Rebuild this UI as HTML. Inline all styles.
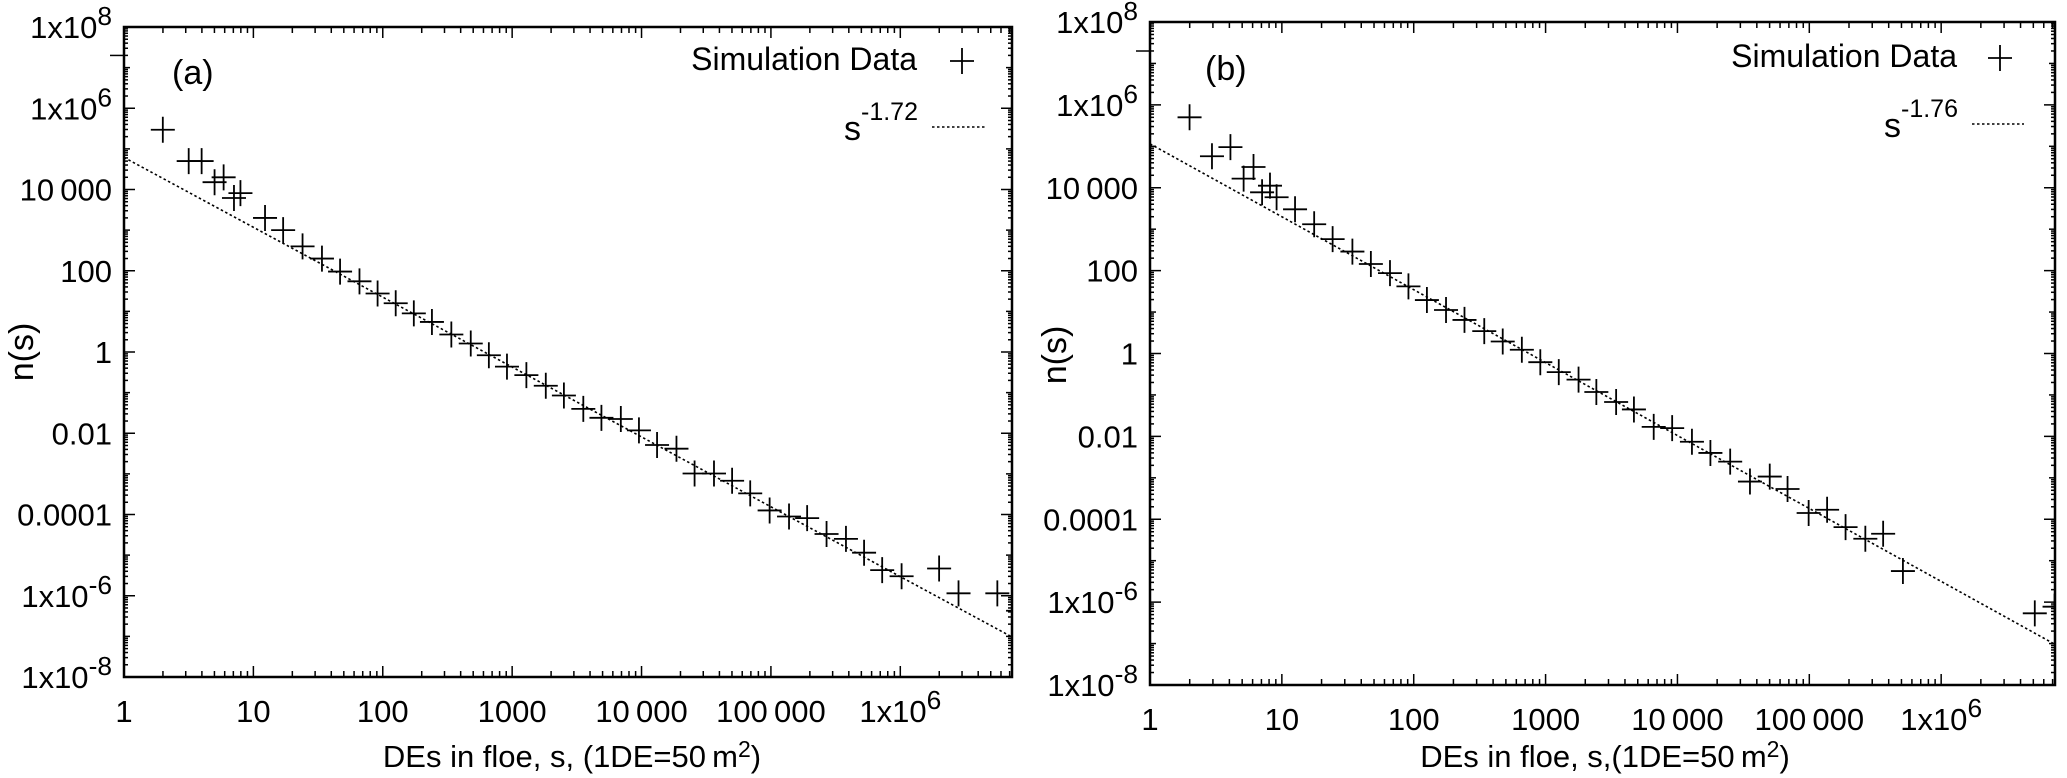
<!DOCTYPE html>
<html><head><meta charset="utf-8"><style>
html,body{margin:0;padding:0;background:#fff;}
svg{display:block;font-family:"Liberation Sans",Arial,sans-serif;}
</style></head><body>
<svg id="chart" width="2067" height="778" viewBox="0 0 2067 778" xmlns="http://www.w3.org/2000/svg"></svg>
<script>
// Panel (a) data: log10(s), log10(n)
const aLogS=[0.30,0.50,0.60,0.70,0.77,0.85,0.90,1.09,1.23,1.38,1.53,1.67,1.82,1.96,2.10,2.24,2.38,2.53,2.68,2.82,2.96,3.11,3.26,3.40,3.55,3.69,3.84,3.98,4.12,4.27,4.41,4.56,4.70,4.84,4.99,5.14,5.28,5.43,5.58,5.72,5.86,6.01,6.30,6.45,6.75,6.91];
const aLogN=[5.47,4.70,4.70,4.18,4.30,3.79,3.91,3.30,3.00,2.60,2.30,1.98,1.74,1.44,1.20,0.95,0.74,0.43,0.21,-0.08,-0.36,-0.57,-0.83,-1.07,-1.40,-1.62,-1.65,-1.93,-2.29,-2.38,-2.99,-2.99,-3.17,-3.48,-3.90,-4.05,-4.09,-4.48,-4.60,-4.94,-5.37,-5.52,-5.33,-5.94,-5.94,-6.37];
// Panel (b) data
const bLogS=[0.30,0.47,0.61,0.71,0.785,0.85,0.91,0.96,1.10,1.245,1.385,1.535,1.675,1.82,1.96,2.10,2.245,2.385,2.535,2.675,2.82,2.96,3.10,3.25,3.385,3.535,3.67,3.82,3.96,4.11,4.25,4.40,4.55,4.70,4.835,4.995,5.135,5.275,5.425,5.56,5.71,6.71,6.86];
const bLogN=[5.70,4.76,4.98,4.22,4.50,3.89,4.05,3.77,3.48,3.12,2.76,2.46,2.16,1.94,1.62,1.29,1.05,0.81,0.54,0.29,0.09,-0.21,-0.45,-0.63,-0.93,-1.17,-1.35,-1.77,-1.80,-2.13,-2.40,-2.61,-3.09,-2.97,-3.27,-3.85,-3.77,-4.19,-4.47,-4.35,-5.25,-6.27,-6.11];
// fits: log n = intercept + slope*log s
const aFit=[4.79,-1.72];
const bFit=[5.06,-1.76];
const xTickLabels=["1","10","100","1000","10\u2009000","100\u2009000","1x10^6"];
const yTickLabels=["1x10^8","1x10^6","10\u2009000","100","1","0.01","0.0001","1x10^-6","1x10^-8"];

const svg=document.getElementById('chart');
const NS="http://www.w3.org/2000/svg";
function el(tag,attrs,parent){const e=document.createElementNS(NS,tag);for(const k in attrs)e.setAttribute(k,attrs[k]);(parent||svg).appendChild(e);return e;}
function labelText(parent,x,y,s,anchor,size){
  const t=el('text',{x:x,y:y,'text-anchor':anchor,'font-size':size},parent);
  const m=s.match(/^(.*)\^(.*)$/);
  if(m){t.textContent=m[1];const sp=el('tspan',{dy:-13,'font-size':size*0.85},t);sp.textContent=m[2];}
  else t.textContent=s;
  return t;
}
function panel(p){
  const g=el('g',{});
  
  
  const xmax=Math.log10(p.xMaxVal);
  const X=v=>p.L+(v)*(p.R-p.L)/xmax;
  const Y=v=>p.T+(8-v)*(p.B-p.T)/16;
  const cid='clip'+p.name;
  const cp=el('clipPath',{id:cid},g);el('rect',{x:p.L,y:p.T,width:p.R-p.L,height:p.B-p.T},cp);
  const tg=el('g',{stroke:'#000','stroke-width':1.5},g);
  
  for(let d=0;d<=7;d++){for(let k=1;k<=9;k++){const v=d+Math.log10(k);if(v>xmax)break;const x=X(v);const len=k==1?11:6;
    el('line',{x1:x,y1:p.B,x2:x,y2:p.B-len},tg);el('line',{x1:x,y1:p.T,x2:x,y2:p.T+len},tg);}}
  for(let d=-8;d<=8;d++){const y=Y(d);const len=(d%2==0)?11:6;
    el('line',{x1:p.L,y1:y,x2:p.L+len,y2:y},tg);el('line',{x1:p.R,y1:y,x2:p.R-len,y2:y},tg);
    if(d<8){for(let k=2;k<=9;k++){const yy=Y(d+Math.log10(k));el('line',{x1:p.L,y1:yy,x2:p.L+4,y2:yy},tg);el('line',{x1:p.R,y1:yy,x2:p.R-4,y2:yy},tg);}}}
  el('line',{x1:p.L-14,y1:Y(7.3),x2:p.L,y2:Y(7.3),stroke:'#000','stroke-width':1.5},g);
  const fr=el('rect',{x:p.L,y:p.T,width:p.R-p.L,height:p.B-p.T,fill:'none',stroke:'#000','stroke-width':2.5},g);
  
  xTickLabels.forEach((s,i)=>{const t=labelText(g,X(i),p.B+45,s,'middle',31);
    });
  yTickLabels.forEach((s,i)=>{const t=labelText(g,p.L-12,Y(8-2*i)+11,s,'end',31);
    });
  const fl=el('line',{x1:X(0),y1:Y(p.fit[0]),x2:X(xmax),y2:Y(p.fit[0]+p.fit[1]*xmax),stroke:'#000','stroke-width':1.6,'stroke-dasharray':'2.5,2.5','clip-path':'url(#'+cid+')'},g);
  
  const pg=el('g',{stroke:'#000','stroke-width':1.8,'clip-path':'url(#'+cid+')'},g);
  
  p.xs.forEach((v,i)=>{const x=X(v),y=Y(p.ys[i]);const pt=el('path',{d:`M${x-12},${y}H${x+12}M${x},${y-13}V${y+13}`},pg);
    });
  const lg=el('g',{},g);
  const t1=el('text',{x:p.legX,y:p.legY1+12,'text-anchor':'end','font-size':32},lg);t1.textContent='Simulation Data';
  
  el('path',{d:`M${p.legMark-12},${p.legY1+3}H${p.legMark+12}M${p.legMark},${p.legY1-10}V${p.legY1+16}`,stroke:'#000','stroke-width':1.8},lg);
  const t2=el('text',{x:p.legX-73,y:p.legY2+16,'font-size':34},lg);t2.textContent='s';
  const sp=el('tspan',{dy:-20,'font-size':25},t2);sp.textContent=p.expo;
  
  el('line',{x1:p.legLine[0],y1:p.legY2+3,x2:p.legLine[1],y2:p.legY2+3,stroke:'#000','stroke-width':1.6,'stroke-dasharray':'2.5,2.5'},lg);
  const pl=el('text',{x:p.plX,y:p.plY,'font-size':34},g);pl.textContent=p.tag;
  
  const yt=el('text',{x:0,y:0,'font-size':34,'text-anchor':'middle',transform:`translate(${p.ytX},${p.ytY}) rotate(-90)`},g);yt.textContent='n(s)';
  
  const xt=el('text',{x:p.xtX,y:p.xtY,'font-size':31,'text-anchor':'middle'},g);xt.textContent=p.xtitle;
  const s2=el('tspan',{dy:-10,'font-size':23},xt);s2.textContent='2';const s3=el('tspan',{dy:10},xt);s3.textContent=')';
  
}
panel({name:'panel-a',L:124,R:1012,T:27,B:677,xMaxVal:7.3e6,xs:aLogS,ys:aLogN,fit:aFit,
  legX:917,legY1:58,legMark:962,legY2:124,legLine:[932,986],expo:'-1.72',tag:'(a)',plX:172,plY:84,
  ytX:33,ytY:352,xtX:572,xtY:767,xtitle:'DEs in floe, s, (1DE=50\u2009m'});
panel({name:'panel-b',L:1150,R:2055,T:22,B:685,xMaxVal:7.3e6,xs:bLogS,ys:bLogN,fit:bFit,
  legX:1957,legY1:55,legMark:2000,legY2:121,legLine:[1972,2024],expo:'-1.76',tag:'(b)',plX:1205,plY:80,
  ytX:1066,ytY:355,xtX:1605,xtY:767,xtitle:'DEs in floe, s,(1DE=50\u2009m'});
</script>
</body></html>
